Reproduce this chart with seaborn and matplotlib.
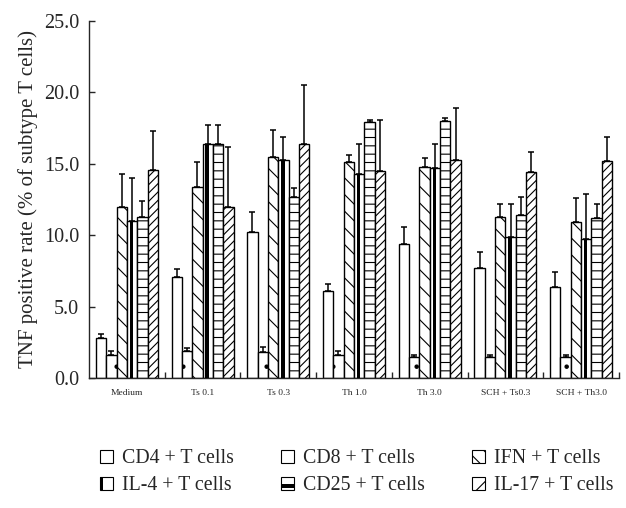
import numpy as np
import pandas as pd
import matplotlib
matplotlib.use("Agg")
import matplotlib.pyplot as plt
import seaborn as sns
from matplotlib.patches import Rectangle, Patch
from matplotlib.legend_handler import HandlerBase
from matplotlib.ticker import FormatStrFormatter, FixedLocator

groups = ["Medium", "Ts 0.1", "Ts 0.3", "Th 1.0", "Th 3.0", "SCH + Ts0.3", "SCH + Th3.0"]
subtypes = ["CD4 + T cells", "CD8 + T cells", "IFN + T cells",
            "IL-4 + T cells", "CD25 + T cells", "IL-17 + T cells"]

cd4 = [2.8, 7.1, 10.2, 6.1, 9.4, 7.7, 6.4]
cd4_err = [0.3, 0.5, 1.4, 0.5, 1.2, 1.1, 1.0]
cd8 = [1.6, 1.9, 1.8, 1.6, 1.5, 1.5, 1.5]
cd8_err = [0.3, 0.2, 0.4, 0.3, 0.1, 0.1, 0.1]
ifn = [12.0, 13.4, 15.5, 15.1, 14.8, 11.3, 10.9]
ifn_err = [2.3, 1.7, 1.9, 0.5, 0.6, 0.9, 1.7]
il4 = [11.0, 16.4, 15.3, 14.3, 14.7, 9.9, 9.7]
il4_err = [3.0, 1.3, 1.6, 2.1, 1.7, 2.3, 3.2]
cd25 = [11.3, 16.4, 12.7, 17.9, 18.0, 11.4, 11.2]
cd25_err = [1.1, 1.3, 0.6, 0.2, 0.2, 1.3, 1.0]
il17 = [14.6, 12.0, 16.4, 14.5, 15.3, 14.4, 15.2]
il17_err = [2.7, 4.2, 4.1, 3.6, 3.6, 1.4, 1.7]

values = [cd4, cd8, ifn, il4, cd25, il17]
errors = [cd4_err, cd8_err, ifn_err, il4_err, cd25_err, il17_err]
hatches = ["", ".", "\\\\", "", "--", "////"]

rows = []
for s, vals in zip(subtypes, values):
    for g, v in zip(groups, vals):
        rows.append({"group": g, "subtype": s, "value": v})
df = pd.DataFrame(rows)

sns.set_style("ticks")
plt.rcParams["font.family"] = ["Liberation Serif", "DejaVu Serif"]
plt.rcParams["hatch.linewidth"] = 0.8
plt.rcParams["hatch.color"] = "black"

fig = plt.figure(figsize=(6.26, 5.08), dpi=100)
ax = fig.add_axes([0.1422, 0.2559, 0.8466, 0.7028])

sns.barplot(data=df, x="group", y="value", hue="subtype", order=groups,
            hue_order=subtypes, palette=["white"] * 6, edgecolor="black",
            linewidth=1.0, errorbar=None, legend=False, width=0.82, ax=ax)

bar_containers = list(ax.containers)
for i, cont in enumerate(bar_containers):
    xs, ys = [], []
    for p in cont.patches:
        p.set_hatch(hatches[i])
        xs.append(p.get_x() + p.get_width() / 2)
        ys.append(p.get_height())
        if i == 3:
            w = p.get_width()
            ax.add_patch(Rectangle((p.get_x() + 0.28 * w, 0), 0.32 * w, p.get_height(),
                                   facecolor="black", edgecolor="none", zorder=3))
    ax.errorbar(xs, ys, yerr=[np.zeros(len(ys)), errors[i]], fmt="none",
                ecolor="black", elinewidth=1.1, capsize=2.3, capthick=1.1, zorder=4)

ax.set_xlim(-0.5, len(groups) - 0.5)
ax.set_ylim(0, 25)
ax.set_yticks([0, 5, 10, 15, 20, 25])
ax.yaxis.set_major_formatter(FormatStrFormatter("%.1f"))
ax.set_xlabel("")
ax.set_ylabel("TNF positive rate (% of subtype T cells)", fontsize=15, labelpad=4)
ax.tick_params(axis="y", direction="in", length=4, labelsize=14.5, width=1, pad=7)
ax.tick_params(axis="x", which="major", length=0, labelsize=6.8, pad=8)
ax.xaxis.set_minor_locator(FixedLocator(np.arange(0.5, len(groups), 1.0)))
ax.tick_params(axis="x", which="minor", direction="in", length=4, width=1)
for sp in ["top", "right"]:
    ax.spines[sp].set_visible(False)
for sp in ["left", "bottom"]:
    ax.spines[sp].set_linewidth(1.0)


class BoxHandler(HandlerBase):
    def __init__(self, kind=""):
        super().__init__()
        self.kind = kind

    def create_artists(self, legend, orig_handle, xdescent, ydescent, width,
                       height, fontsize, trans):
        s = min(width, height)
        x0 = -xdescent + (width - s) / 2
        y0 = -ydescent + (height - s) / 2
        arts = [Rectangle((x0, y0), s, s, facecolor="white", edgecolor="black",
                          lw=0.8, hatch=orig_handle.get_hatch(), transform=trans)]
        if self.kind == "il4":
            arts.append(Rectangle((x0, y0), 0.22 * s, s, facecolor="black",
                                  edgecolor="none", transform=trans))
        if self.kind == "cd25":
            arts.append(Rectangle((x0, y0 + 0.15 * s), s, 0.3 * s, facecolor="black",
                                  edgecolor="none", transform=trans))
        return arts


leg_hatch = ["", "", "\\\\", "", "", "//"]
kinds = ["", "", "", "il4", "cd25", ""]
handles = [Patch(facecolor="white", edgecolor="black", hatch=h, label=s)
           for h, s in zip(leg_hatch, subtypes)]
hmap = {h: BoxHandler(k) for h, k in zip(handles, kinds)}
order = [0, 3, 1, 4, 2, 5]
fig.legend([handles[i] for i in order], [subtypes[i] for i in order],
           handler_map=hmap, ncol=3, loc="center left", bbox_to_anchor=(0.16, 0.07),
           frameon=False, fontsize=14.3, handlelength=0.67, handleheight=0.67,
           handletextpad=0.45, columnspacing=2.35, labelspacing=0.4, borderpad=0,
           borderaxespad=0)

fig.savefig("out.png", dpi=100)
